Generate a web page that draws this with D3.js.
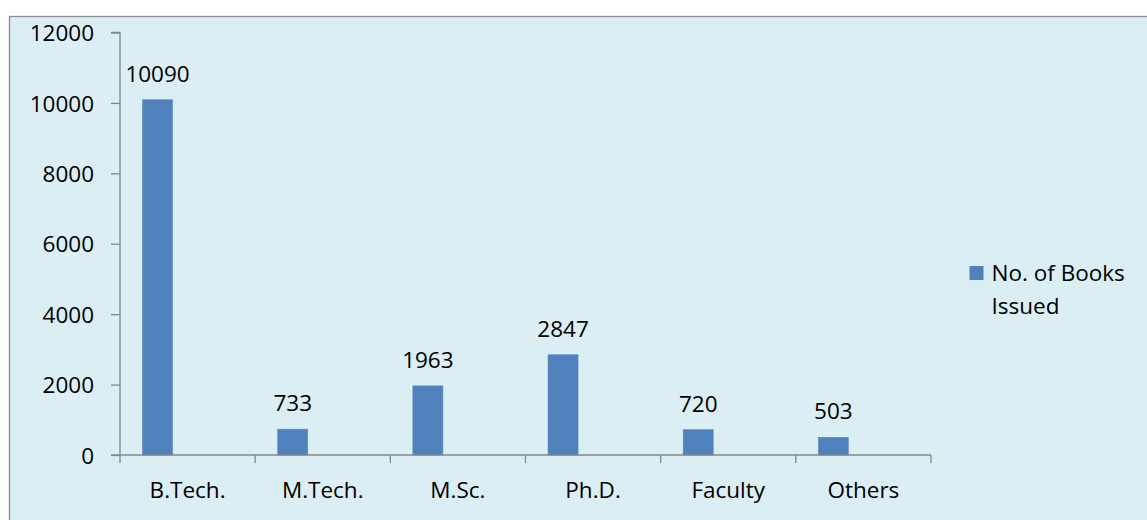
<!DOCTYPE html>
<html>
<head>
<meta charset="utf-8">
<script src="https://cdn.jsdelivr.net/npm/d3@7"></script>
<style>
  html, body { margin: 0; padding: 0; background: #ffffff; }
  svg { display: block; }
  text { font-family: "Open Sans", "Noto Sans", sans-serif; fill: #000; }
</style>
</head>
<body>
<svg id="chart" width="1147" height="520"></svg>
<script>
// Books issued by user group
const categories = ["B.Tech.", "M.Tech.", "M.Sc.", "Ph.D.", "Faculty", "Others"];
const booksIssued = [10090, 733, 1963, 2847, 720, 503];
const yTicks = [0, 2000, 4000, 6000, 8000, 10000, 12000];
const seriesName = ["No. of Books", "Issued"];

const svg = d3.select("#chart");
const W = 1147, H = 520;

// Chart area background and frame
svg.append("rect")
  .attr("x", 9.5).attr("y", 16.5)
  .attr("width", W).attr("height", H)
  .attr("fill", "#dbeef4")
  .attr("stroke", "#8a8a8a")
  .attr("stroke-width", 1.3);

const plot = { left: 120, right: 931, top: 32.5, bottom: 455 };

const x = d3.scaleBand()
  .domain(categories)
  .range([plot.left, plot.right])
  .paddingInner(0).paddingOuter(0);

const y = d3.scaleLinear()
  .domain([0, 12000])
  .range([plot.bottom, plot.top]);

// Column layout: 1.5 widths of gap shared around a 3-slot cluster, first slot used
const barW = x.bandwidth() / 4.5;
const barOffset = barW * 0.75;

// Bars
svg.append("g").selectAll("rect")
  .data(booksIssued)
  .join("rect")
  .attr("x", (d, i) => x(categories[i]) + barOffset)
  .attr("y", d => y(d))
  .attr("width", barW)
  .attr("height", d => y(0) - y(d))
  .attr("fill", "#4f81bd")
  .attr("stroke", "#5b8dc8")
  .attr("stroke-width", 0.6);

// Value labels above bars
svg.append("g").selectAll("text")
  .data(booksIssued)
  .join("text")
  .attr("x", (d, i) => x(categories[i]) + barOffset + barW / 2)
  .attr("y", d => y(d) - 18)
  .attr("text-anchor", "middle")
  .style("font-size", "22.5px")
  .text(d => d);

// Y axis
const yAxis = d3.axisLeft(y)
  .tickValues(yTicks)
  .tickSize(9)
  .tickPadding(17)
  .tickFormat(d3.format("d"));

const gy = svg.append("g")
  .attr("transform", `translate(${plot.left},0)`)
  .call(yAxis);
gy.select(".domain").attr("stroke", "#868686").attr("stroke-width", 1.3)
  .attr("d", `M-9,${plot.top}H0V${plot.bottom}H-9`);
gy.selectAll(".tick line").attr("stroke", "#868686").attr("stroke-width", 1.3);
gy.selectAll(".tick text")
  .style("font-size", "22.5px")
  .attr("fill", "#000")
  .attr("dy", "0.36em");

// X axis: ticks at band boundaries, labels at band centres
const gx = svg.append("g")
  .attr("transform", `translate(0,${plot.bottom})`);
gx.append("line")
  .attr("x1", plot.left).attr("x2", plot.right)
  .attr("y1", 0).attr("y2", 0)
  .attr("stroke", "#868686").attr("stroke-width", 1.3);
const boundaries = categories.map(c => x(c)).concat([plot.right]);
gx.selectAll("line.tick")
  .data(boundaries)
  .join("line")
  .attr("class", "tick")
  .attr("x1", d => d).attr("x2", d => d)
  .attr("y1", 0).attr("y2", 8)
  .attr("stroke", "#868686").attr("stroke-width", 1.3);
gx.selectAll("text")
  .data(categories)
  .join("text")
  .attr("x", d => x(d) + x.bandwidth() / 2)
  .attr("y", 43)
  .attr("text-anchor", "middle")
  .style("font-size", "22.5px")
  .text(d => d);

// Legend
const legend = svg.append("g");
legend.append("rect")
  .attr("x", 969.5).attr("y", 266)
  .attr("width", 14).attr("height", 14)
  .attr("fill", "#4f81bd");
legend.selectAll("text")
  .data(seriesName)
  .join("text")
  .attr("x", 991.5)
  .attr("y", (d, i) => 280.5 + i * 33.3)
  .style("font-size", "22.5px")
  .text(d => d);
</script>
</body>
</html>
